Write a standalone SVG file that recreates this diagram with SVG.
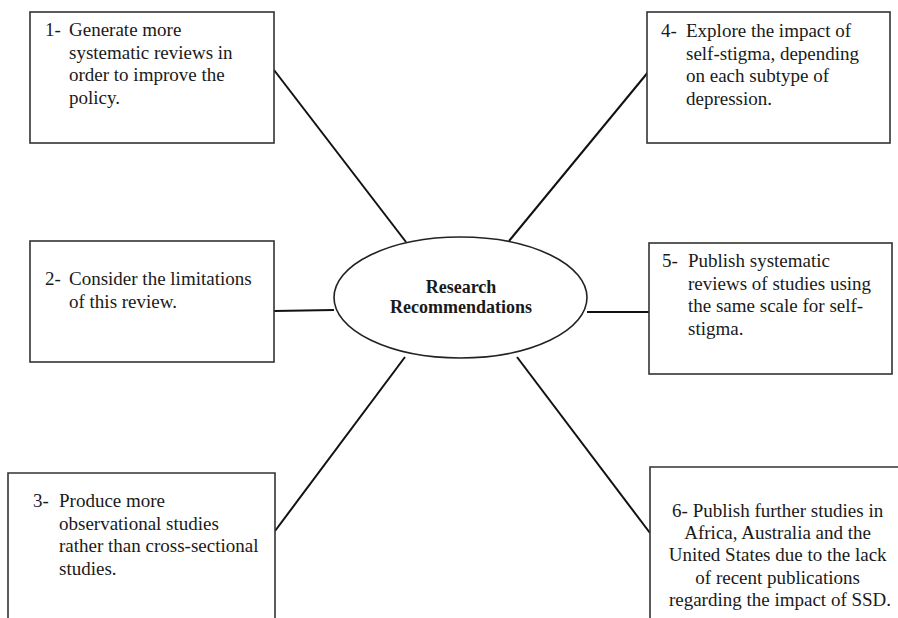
<svg xmlns="http://www.w3.org/2000/svg" width="898" height="618" viewBox="0 0 898 618">
  <style>
    .box { fill: #ffffff; stroke: #333333; stroke-width: 1.6; }
    .hub { fill: #ffffff; stroke: #222222; stroke-width: 1.6; }
    .link { stroke: #111111; stroke-width: 2; fill: none; }
    .txt { font-family: "Liberation Serif", "Times New Roman", serif; font-size: 19px; fill: #1a1a1a; }
    .hubtxt { font-family: "Liberation Serif", "Times New Roman", serif; font-size: 18px; font-weight: bold; fill: #1a1a1a; text-anchor: middle; }
    .mid { text-anchor: middle; }
  </style>
  <rect width="898" height="618" fill="#ffffff"/>

  <!-- spokes from the central ellipse to each recommendation -->
  <g id="connectors">
    <line class="link" x1="274" y1="70" x2="406" y2="242"/>
    <line class="link" x1="649" y1="71" x2="509" y2="241"/>
    <line class="link" x1="274" y1="311" x2="334" y2="310"/>
    <line class="link" x1="587" y1="312" x2="649" y2="312"/>
    <line class="link" x1="275" y1="531" x2="405" y2="357"/>
    <line class="link" x1="650" y1="533" x2="517" y2="357"/>
  </g>

  <g id="hub">
    <ellipse class="hub" cx="460.5" cy="297.5" rx="126.5" ry="60.5"/>
    <text class="hubtxt" x="461" y="293">Research</text>
    <text class="hubtxt" x="461" y="313">Recommendations</text>
  </g>

  <g id="rec1">
    <rect class="box" x="30" y="12" width="244" height="131"/>
    <text class="txt" x="45" y="36">1-</text>
    <text class="txt">
      <tspan x="69" y="36">Generate more</tspan>
      <tspan x="69" y="58.5">systematic reviews in</tspan>
      <tspan x="69" y="81">order to improve the</tspan>
      <tspan x="69" y="103.5">policy.</tspan>
    </text>
  </g>

  <g id="rec2">
    <rect class="box" x="30" y="241" width="244" height="121"/>
    <text class="txt" x="45" y="285">2-</text>
    <text class="txt">
      <tspan x="69" y="285">Consider the limitations</tspan>
      <tspan x="69" y="307.5">of this review.</tspan>
    </text>
  </g>

  <g id="rec3">
    <path class="box" d="M8 620 V473 H275 V620"/>
    <text class="txt" x="33" y="507">3-</text>
    <text class="txt">
      <tspan x="59" y="507">Produce more</tspan>
      <tspan x="59" y="529.5">observational studies</tspan>
      <tspan x="59" y="552">rather than cross-sectional</tspan>
      <tspan x="59" y="574.5">studies.</tspan>
    </text>
  </g>

  <g id="rec4">
    <rect class="box" x="647" y="12" width="243" height="131"/>
    <text class="txt" x="661" y="37">4-</text>
    <text class="txt">
      <tspan x="686" y="37">Explore the impact of</tspan>
      <tspan x="686" y="59.5">self-stigma, depending</tspan>
      <tspan x="686" y="82">on each subtype of</tspan>
      <tspan x="686" y="104.5">depression.</tspan>
    </text>
  </g>

  <g id="rec5">
    <rect class="box" x="649" y="243" width="243" height="131"/>
    <text class="txt" x="662" y="267">5-</text>
    <text class="txt">
      <tspan x="688" y="267">Publish systematic</tspan>
      <tspan x="688" y="289.5">reviews of studies using</tspan>
      <tspan x="688" y="312">the same scale for self-</tspan>
      <tspan x="688" y="334.5">stigma.</tspan>
    </text>
  </g>

  <g id="rec6">
    <path class="box" d="M650 620 V467 H900"/>
    <text class="txt mid">
      <tspan x="780" y="517">6- Publish further studies in</tspan>
      <tspan x="780" y="539">Africa, Australia and the</tspan>
      <tspan x="780" y="561">United States due to the lack</tspan>
      <tspan x="780" y="583.5">of recent publications</tspan>
      <tspan x="780" y="606">regarding the impact of SSD.</tspan>
    </text>
  </g>
</svg>
